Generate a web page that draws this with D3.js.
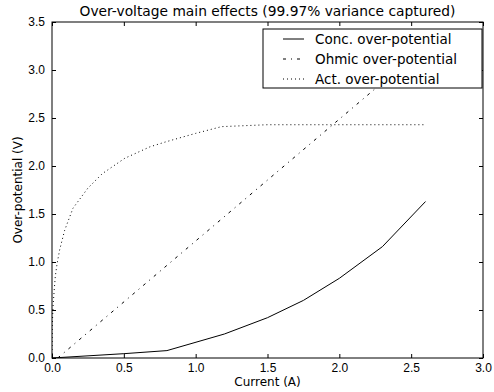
<!DOCTYPE html>
<html>
<head>
<meta charset="utf-8">
<script src="https://cdn.jsdelivr.net/npm/d3@7"></script>
<style>
  body { margin: 0; background: #fff; }
  svg { display: block; font-family: "DejaVu Sans", sans-serif; }
</style>
</head>
<body>
<div id="chart"></div>
<script>
// Values
const concX = [0, 0.5, 0.8, 1.2, 1.5, 1.75, 2.0, 2.3, 2.6]
const concY = [0, 0.045, 0.077, 0.25, 0.42, 0.6, 0.83, 1.16, 1.63]

const ohmicX = [0.04, 2.6]
const ohmicY = [0, 3.25]

const actX = [0, 0.002, 0.007, 0.015, 0.023, 0.035, 0.053, 0.088, 0.146, 0.25, 0.35, 0.506, 0.682, 0.795, 1.0, 1.18, 1.5, 2.0, 2.6]
const actY = [0, 0.35, 0.53, 0.7, 0.85, 0.98, 1.125, 1.33, 1.56, 1.77, 1.92, 2.08, 2.2, 2.253, 2.34, 2.41, 2.43, 2.43, 2.43]

const xTicks = [0, 0.5, 1.0, 1.5, 2.0, 2.5, 3.0]
const yTicks = [0, 0.5, 1.0, 1.5, 2.0, 2.5, 3.0, 3.5]

const seriesNames = ["Conc. over-potential", "Ohmic over-potential", "Act. over-potential"]
const seriesDash = [null, "3,5,1,5", "1,3"]

const width = 494
const height = 392
const margin = { top: 22, right: 11, bottom: 34, left: 52 }
const boundedWidth = width - margin.left - margin.right
const boundedHeight = height - margin.top - margin.bottom

const svg = d3.select("#chart").append("svg")
    .attr("width", width)
    .attr("height", height)

const bounds = svg.append("g")
    .attr("transform", `translate(${margin.left},${margin.top})`)

const xScale = d3.scaleLinear().domain([0, 3]).range([0, boundedWidth])
const yScale = d3.scaleLinear().domain([0, 3.5]).range([boundedHeight, 0])

// clip so lines stay inside the axes box
svg.append("defs").append("clipPath").attr("id", "clip")
  .append("rect").attr("width", boundedWidth).attr("height", boundedHeight)

const lineGenerator = d3.line()
    .x(d => xScale(d[0]))
    .y(d => yScale(d[1]))

const series = [
  d3.zip(concX, concY),
  d3.zip(ohmicX, ohmicY),
  d3.zip(actX, actY)
]

const plot = bounds.append("g").attr("clip-path", "url(#clip)")
series.forEach((data, i) => {
  plot.append("path")
      .attr("d", lineGenerator(data))
      .attr("fill", "none")
      .attr("stroke", "#000")
      .attr("stroke-width", 1)
      .attr("stroke-dasharray", seriesDash[i])
})

// Axes with inward ticks on all four sides (labels only bottom/left)
const tickStyle = g => {
  g.select(".domain").remove()
  g.selectAll("line").attr("stroke", "#000")
  g.selectAll("text").attr("fill", "#000").style("font-size", "12px")
}

bounds.append("g")
    .attr("transform", `translate(0,${boundedHeight})`)
    .call(d3.axisBottom(xScale).tickValues(xTicks).tickFormat(d3.format(".1f"))
      .tickSizeInner(-4).tickSizeOuter(0).tickPadding(5))
    .call(tickStyle)

bounds.append("g")
    .call(d3.axisTop(xScale).tickValues(xTicks).tickFormat("")
      .tickSizeInner(-4).tickSizeOuter(0))
    .call(tickStyle)

bounds.append("g")
    .call(d3.axisLeft(yScale).tickValues(yTicks).tickFormat(d3.format(".1f"))
      .tickSizeInner(-4).tickSizeOuter(0).tickPadding(7))
    .call(tickStyle)

bounds.append("g")
    .attr("transform", `translate(${boundedWidth},0)`)
    .call(d3.axisRight(yScale).tickValues(yTicks).tickFormat("")
      .tickSizeInner(-4).tickSizeOuter(0))
    .call(tickStyle)

// Frame
bounds.append("rect")
    .attr("width", boundedWidth)
    .attr("height", boundedHeight)
    .attr("fill", "none")
    .attr("stroke", "#000")
    .attr("stroke-width", 1)

// Legend
const legend = bounds.append("g")
    .attr("transform", `translate(${263 - margin.left},${29 - margin.top})`)

legend.append("rect")
    .attr("width", 219)
    .attr("height", 59)
    .attr("fill", "#fff")
    .attr("stroke", "#000")
    .attr("stroke-width", 1)

seriesNames.forEach((name, i) => {
  const y = 10 + i * 20
  legend.append("line")
      .attr("x1", 20).attr("x2", 41)
      .attr("y1", y).attr("y2", y)
      .attr("stroke", "#000")
      .attr("stroke-dasharray", seriesDash[i])
  legend.append("text")
      .attr("x", 52)
      .attr("y", y)
      .attr("dy", "0.35em")
      .style("font-size", "13.5px")
      .text(name)
})

// Title and axis labels
svg.append("text")
    .attr("x", margin.left + boundedWidth / 2)
    .attr("y", 16)
    .attr("text-anchor", "middle")
    .style("font-size", "13.8px")
    .text("Over-voltage main effects (99.97% variance captured)")

svg.append("text")
    .attr("x", margin.left + boundedWidth / 2)
    .attr("y", 386)
    .attr("text-anchor", "middle")
    .style("font-size", "12px")
    .text("Current (A)")

svg.append("text")
    .attr("transform", `translate(22,${margin.top + boundedHeight / 2}) rotate(-90)`)
    .attr("text-anchor", "middle")
    .style("font-size", "12px")
    .text("Over-potential (V)")
</script>
</body>
</html>
